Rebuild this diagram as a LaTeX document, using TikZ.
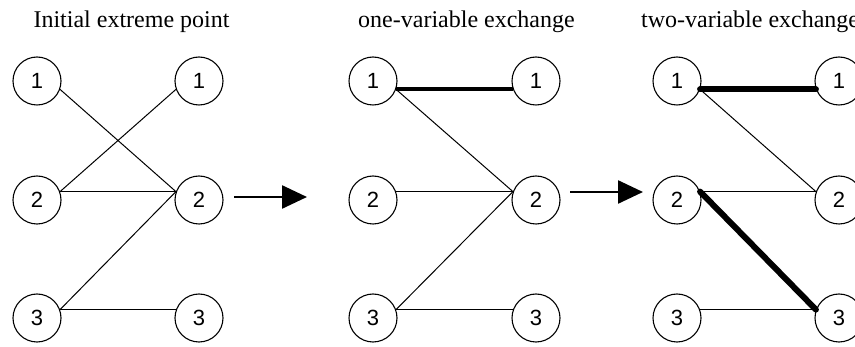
\documentclass[tikz,border=0pt]{standalone}
\usepackage{fontspec}
\setmainfont{Liberation Serif}
\newfontfamily\numfont{Liberation Sans}
\usetikzlibrary{arrows.meta}
\begin{document}
\begin{tikzpicture}[x=1pt,y=-1pt]
        \tikzstyle{var} = [draw,circle,line width=1.1pt,minimum size=48pt,inner sep=0pt,font=\numfont\fontsize{22}{24}\selectfont]
        \tikzstyle{title} = [anchor=base,inner sep=0pt,font=\fontsize{24}{28}\selectfont]
        \tikzstyle{link} = [line width=1pt]

        \useasboundingbox (0,0) rectangle (855,347);

        % titles
        \node[title] (tA) at (131.5,28) {Initial extreme point};
        \node[title] (tB) at (466.5,28) {one-variable exchange};
        \node[title,anchor=base west] (tC) at (641,28) {two-variable exchange};

        % initial extreme point
        \node[var] (A1) at (37,81) {1};
        \node[var] (A2) at (37,200) {2};
        \node[var] (A3) at (37,318) {3};
        \node[var] (a1) at (199,81) {1};
        \node[var] (a2) at (199,200) {2};
        \node[var] (a3) at (199,318) {3};

        \draw[link] (A1.-20) -- (a2.160);
        \draw[link] (A2.20) -- (a1.200);
        \draw[link] (A2.20) -- (a2.160);
        \draw[link] (A3.20) -- (a2.160);
        \draw[link] (A3.20) -- (a3.160);

        % one-variable exchange
        \node[var] (B1) at (373,81) {1};
        \node[var] (B2) at (373,200) {2};
        \node[var] (B3) at (373,318) {3};
        \node[var] (b1) at (536,81) {1};
        \node[var] (b2) at (536,200) {2};
        \node[var] (b3) at (536,318) {3};

        \draw[line width=4pt] (B1.-20) -- (b1.200);
        \draw[link] (B1.-20) -- (b2.160);
        \draw[link] (B2.20) -- (b2.160);
        \draw[link] (B3.20) -- (b2.160);
        \draw[link] (B3.20) -- (b3.160);

        % two-variable exchange
        \node[var] (C1) at (677,81) {1};
        \node[var] (C2) at (677,200) {2};
        \node[var] (C3) at (677,318) {3};
        \node[var] (c1) at (839,81) {1};
        \node[var] (c2) at (839,200) {2};
        \node[var] (c3) at (839,318) {3};

        \draw[line width=6pt,line cap=round] (C1.-20) -- (c1.200);
        \draw[link] (C1.-20) -- (c2.160);
        \draw[link] (C2.20) -- (c2.160);
        \draw[line width=6pt,line cap=round] (C2.20) -- (c3.160);
        \draw[link] (C3.20) -- (c3.160);

        % arrows between the stages
        \coordinate (s1) at (234,197);
        \coordinate (e1) at (307,197);
        \coordinate (s2) at (570,192);
        \coordinate (e2) at (643,192);
        \draw[line width=2.5pt,-{Triangle[length=25pt,width=23pt]}] (s1) -- (e1);
        \draw[line width=2.5pt,-{Triangle[length=25pt,width=23pt]}] (s2) -- (e2);
\end{tikzpicture}
\end{document}
